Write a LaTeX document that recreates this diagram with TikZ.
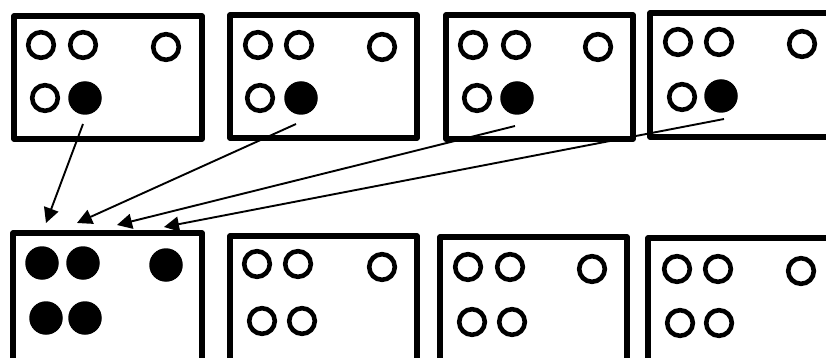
\documentclass[tikz,border=0pt]{standalone}
\usetikzlibrary{arrows.meta}
\tikzset{
  cell/.style={draw=black, line width=5.5pt, line join=round},
  ring/.style={draw=black, line width=4.6pt, fill=white},
  dot/.style={circle, fill=black, minimum size=33.5pt, inner sep=0pt},
  link/.style={line width=1.9pt, -{Triangle[length=15pt,width=15pt]}}
}
\newcommand{\holeat}[2]{\draw[ring] (#1,#2) circle[radius=12.8];}
\begin{document}
\begin{tikzpicture}[x=1pt,y=-1pt]
\useasboundingbox (0,0) rectangle (826,358);
\clip (0,0) rectangle (826,358);
% top row boxes
\draw[cell] (14,16) rectangle (202,139);
\draw[cell] (230,15) rectangle (417,138);
\draw[cell] (446,15) rectangle (633,139);
\draw[cell] (650,13) rectangle (850,137);
% bottom row boxes
\draw[cell] (13,233) rectangle (202,380);
\draw[cell] (230,236) rectangle (417,380);
\draw[cell] (440,237) rectangle (627,380);
\draw[cell] (648,238) rectangle (850,380);
% top box 1
\holeat{41}{45} \holeat{83}{45} \holeat{166}{47} \holeat{45}{98}
\node[dot] (t1e) at (85,98) {};
% top box 2
\holeat{258}{45} \holeat{299}{45} \holeat{382}{47} \holeat{260}{98}
\node[dot] (t2e) at (301,98) {};
% top box 3
\holeat{473}{45} \holeat{516}{45} \holeat{598}{47} \holeat{477}{98}
\node[dot] (t3e) at (517,98) {};
% top box 4
\holeat{678}{42} \holeat{719}{42} \holeat{802}{44} \holeat{682}{97}
\node[dot] (t4e) at (721,96) {};
% bottom box 1
\node[dot] (b1a) at (42,263) {};
\node[dot] (b1b) at (83,263) {};
\node[dot] (b1c) at (166,265) {};
\node[dot] (b1d) at (46,318) {};
\node[dot] (b1e) at (85,318) {};
% bottom box 2
\holeat{257}{264} \holeat{298}{264} \holeat{382}{267} \holeat{262}{321} \holeat{302}{321}
% bottom box 3
\holeat{468}{267} \holeat{510}{267} \holeat{592}{269} \holeat{472}{322} \holeat{512}{322}
% bottom box 4
\holeat{677}{269} \holeat{718}{269} \holeat{801}{271} \holeat{680}{323} \holeat{719}{323}
% arrow ends
\coordinate (s1) at (83,124);
\coordinate (s2) at (296,124);
\coordinate (s3) at (515,126);
\coordinate (s4) at (724,119);
\coordinate (e1) at (46,223);
\coordinate (e2) at (77,223);
\coordinate (e3) at (117,225);
\coordinate (e4) at (164,227);
\draw[link] (s1) -- (e1);
\draw[link] (s2) -- (e2);
\draw[link] (s3) -- (e3);
\draw[link] (s4) -- (e4);
\end{tikzpicture}
\end{document}
